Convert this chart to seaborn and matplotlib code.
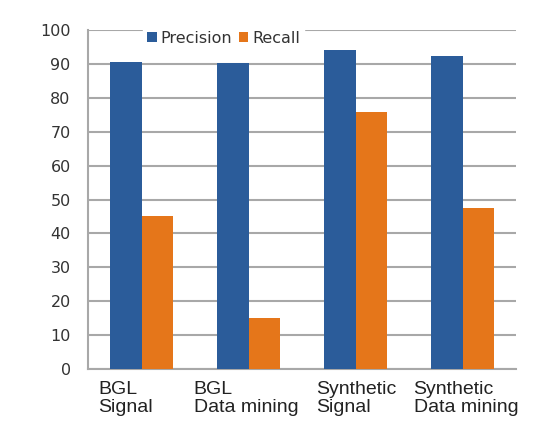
import pandas as pd
import numpy as np
import matplotlib
matplotlib.use("Agg")
import matplotlib.pyplot as plt
import matplotlib.transforms as mtransforms
import seaborn as sns

#data
categories = ["BGL\nSignal", "BGL\nData mining", "Synthetic\nSignal", "Synthetic\nData mining"]
precision = [90.5, 90.2, 94.2, 92.4]
recall = [45.0, 15.1, 75.7, 47.6]
series = ["Precision", "Recall"]

data = pd.DataFrame({
    "category": categories * 2,
    "metric": [series[0]] * 4 + [series[1]] * 4,
    "value": precision + recall,
})

sns.set_style("white")
plt.rcParams["font.family"] = ["DejaVu Sans"]

fig = plt.figure(figsize=(5.34, 4.25), dpi=100)
ax = fig.add_axes([88/534, 1-369/425, 428/534, 339/425])

sns.barplot(data=data, x="category", y="value", hue="metric",
            palette=["#2b5c9a", "#e5761a"], width=0.58, gap=0,
            saturation=1, linewidth=0, ax=ax, zorder=3)

ax.set_ylim(0, 100)
ax.set_xlim(-0.5, 3.5)
ax.set_yticks(np.arange(0, 101, 10))
ax.yaxis.grid(True, color="#a8a8a8", linewidth=1.5, zorder=0)
ax.set_axisbelow(True)
ax.set_xlabel("")
ax.set_ylabel("")

for s in ["top", "right"]:
    ax.spines[s].set_visible(False)
for s in ["left", "bottom"]:
    ax.spines[s].set_color("#a8a8a8")
    ax.spines[s].set_linewidth(1.5)

ax.tick_params(axis="y", length=4.5, width=1.5, color="#a8a8a8",
               labelsize=11.5, labelcolor="#333333", pad=8)
# x labels hang left from category centers, ticks sit on the boundaries
ax.set_xticks(range(len(categories)))
ax.set_xticklabels(categories, ha="left", fontsize=14,
                   family="Liberation Sans", color="#222222", linespacing=1.0)
ax.tick_params(axis="x", which="major", length=0, pad=9)
ax.set_xticks(np.arange(-0.5, 4, 1), minor=True)
ax.tick_params(axis="x", which="minor", length=4, width=1.5, color="#a8a8a8")

shifts = [-43, -55, -39, -49]
for lab, dx in zip(ax.get_xticklabels(), shifts):
    lab.set_transform(lab.get_transform() +
                      mtransforms.ScaledTranslation(dx/100, 0, fig.dpi_scale_trans))

handles, labels = ax.get_legend_handles_labels()
leg = ax.legend(handles, labels, ncol=2, loc="center left",
                bbox_to_anchor=(0.11, 0.976), frameon=True, fontsize=11.5,
                handlelength=0.6, handleheight=0.6, handletextpad=0.25,
                columnspacing=0.4, borderpad=0.25, fancybox=False)
leg.get_frame().set_facecolor("white")
leg.get_frame().set_edgecolor("white")
leg.get_frame().set_alpha(1)
for t in leg.get_texts():
    t.set_color("#333333")

plt.savefig("out.png", dpi=100)
